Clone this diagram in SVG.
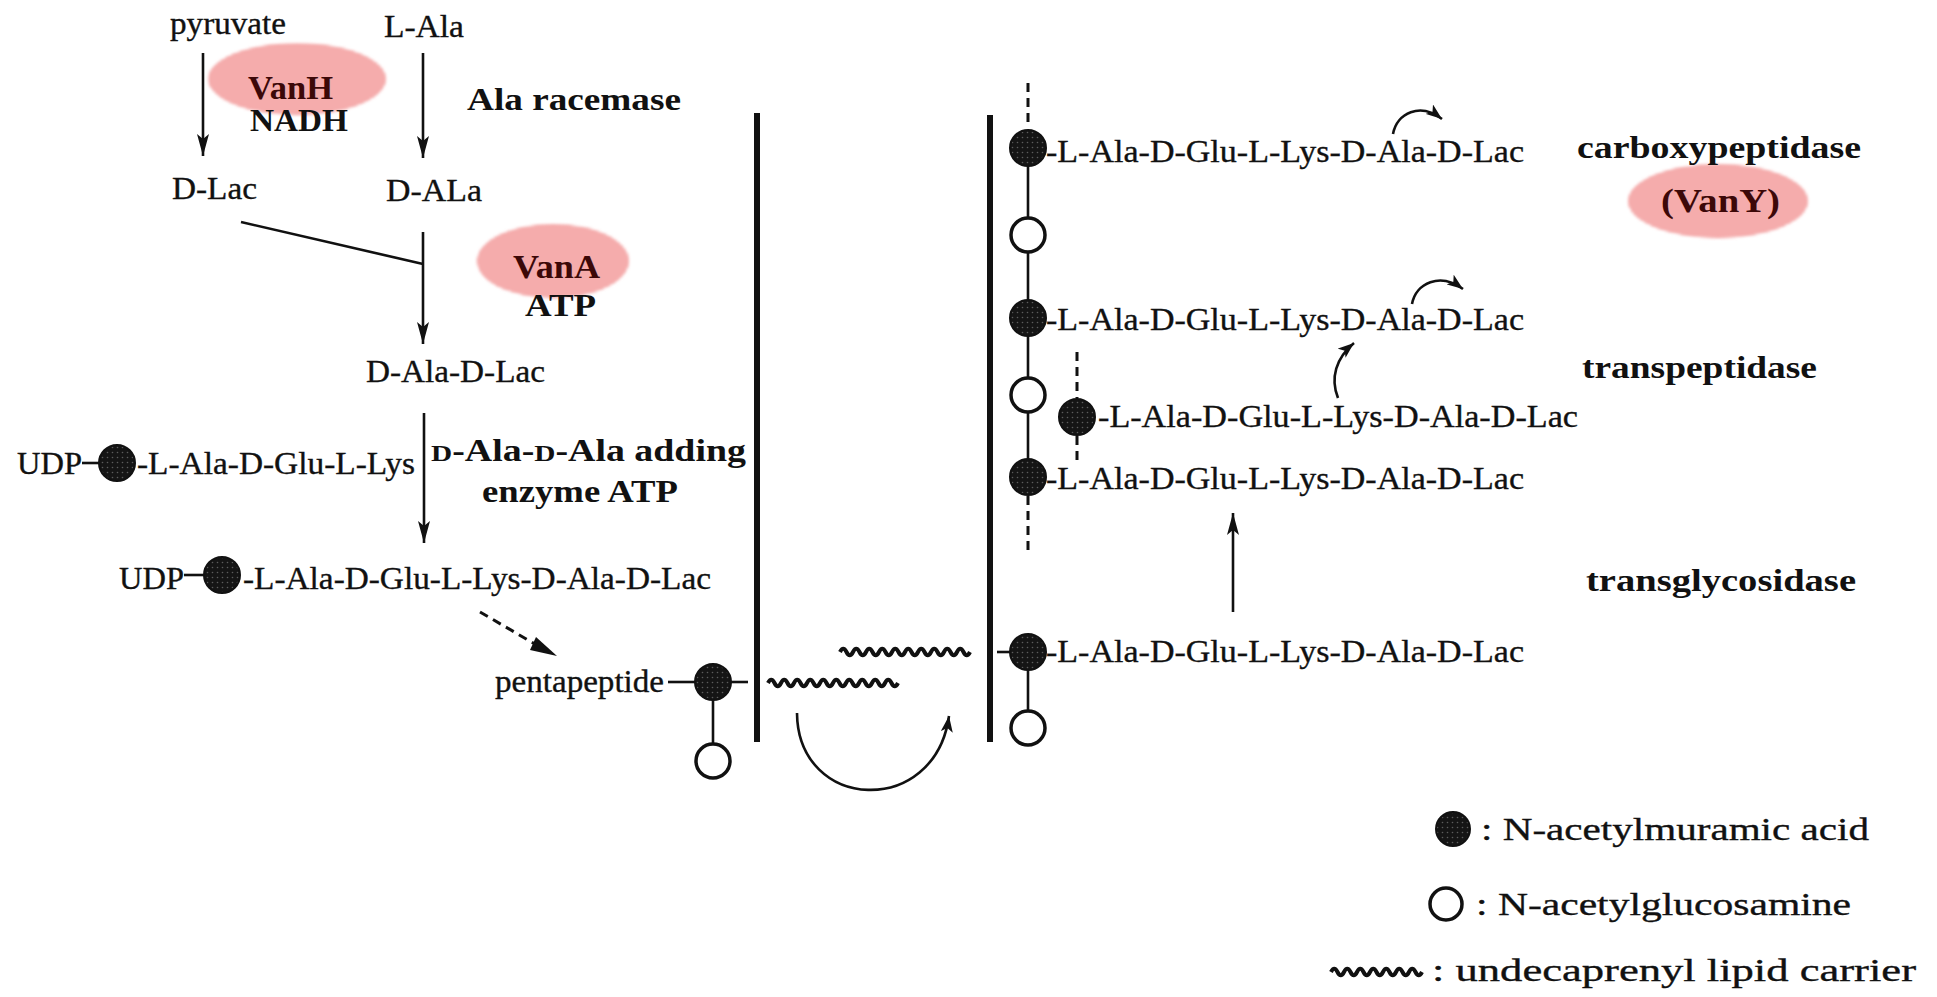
<svg xmlns="http://www.w3.org/2000/svg" width="1937" height="997" viewBox="0 0 1937 997">
  <style>
    .t { font-family: "Liberation Serif", "Times New Roman", serif; font-size: 31px; fill: #111; stroke: #111; stroke-width: 0.35; }
    .b { font-family: "Liberation Serif", "Times New Roman", serif; font-size: 31px; font-weight: bold; fill: #111; }
    .enz { font-family: "Liberation Serif", "Times New Roman", serif; font-size: 34px; font-weight: bold; fill: #3c0808; }
    .ln { stroke: #111; stroke-width: 2.6; fill: none; }
    .arr { stroke: #111; stroke-width: 2.6; fill: none; marker-end: url(#ah); }
    .dash { stroke: #111; stroke-width: 3; fill: none; stroke-dasharray: 9 6; }
    .mem { stroke: #111; stroke-width: 6; fill: none; }
    .mur { fill: url(#dots); stroke: #111; stroke-width: 2; }
    .glc { fill: #fff; stroke: #111; stroke-width: 3.5; }
    .wave { stroke: #111; stroke-width: 4; fill: none; }
    .blob { fill: url(#pink); filter: url(#soft); }
  </style>
  <defs>
    <!-- stippled dark fill for N-acetylmuramic acid -->
    <pattern id="dots" width="5" height="5" patternUnits="userSpaceOnUse">
      <rect width="5" height="5" fill="#151515"/>
      <circle cx="2.5" cy="2.5" r="0.8" fill="#5c5c5c"/>
    </pattern>
    <!-- screened pink highlight behind enzyme names -->
    <pattern id="pink" width="3" height="3" patternUnits="userSpaceOnUse">
      <rect width="3" height="3" fill="#fcdcdc"/>
      <rect width="1" height="3" fill="#ef7272"/>
      <rect width="3" height="1" fill="#ef7272"/>
    </pattern>
    <filter id="soft" x="-20%" y="-20%" width="140%" height="140%">
      <feGaussianBlur stdDeviation="1.4"/>
    </filter>
    <marker id="ah" markerUnits="userSpaceOnUse" markerWidth="24" markerHeight="14" refX="22" refY="7" orient="auto">
      <path d="M0,1 L22,7 L0,13 L5,7 z" fill="#111"/>
    </marker>
    <marker id="ahc" markerUnits="userSpaceOnUse" markerWidth="18" markerHeight="12" refX="16" refY="6" orient="auto">
      <path d="M0,0 L16,6 L0,12 L4,6 z" fill="#111"/>
    </marker>
    <path id="wv" d="M0,0 q3.25,-6.5 6.5,0 t6.5,0 t6.5,0 t6.5,0 t6.5,0 t6.5,0 t6.5,0 t6.5,0 t6.5,0 t6.5,0 t6.5,0 t6.5,0 t6.5,0 t6.5,0 t6.5,0 t6.5,0 t6.5,0 t6.5,0 t6.5,0 t6.5,0"/>
  </defs>

  <!-- enzyme highlights -->
  <g id="enzymes">
    <ellipse class="blob" cx="297" cy="79" rx="89" ry="36"/>
    <ellipse class="blob" cx="553" cy="261" rx="76" ry="37"/>
    <ellipse class="blob" cx="1718" cy="201" rx="90" ry="37"/>
  </g>

  <!-- cytoplasmic precursor synthesis -->
  <g id="node-pyruvate"><text class="t" x="170" y="34" textLength="116" lengthAdjust="spacingAndGlyphs">pyruvate</text></g>
  <g id="node-lala"><text class="t" x="384" y="37" textLength="80" lengthAdjust="spacingAndGlyphs">L-Ala</text></g>
  <g id="node-vanh">
    <text class="enz" x="248" y="99" textLength="85" lengthAdjust="spacingAndGlyphs">VanH</text>
    <text class="b" x="250" y="131" textLength="98" lengthAdjust="spacingAndGlyphs">NADH</text>
  </g>
  <g id="node-racemase"><text class="b" x="467" y="110" textLength="214" lengthAdjust="spacingAndGlyphs">Ala  racemase</text></g>
  <g id="node-dlac"><text class="t" x="172" y="199" textLength="85" lengthAdjust="spacingAndGlyphs">D-Lac</text></g>
  <g id="node-dala"><text class="t" x="386" y="201" textLength="96" lengthAdjust="spacingAndGlyphs">D-ALa</text></g>
  <g id="node-vana">
    <text class="enz" x="513" y="278" textLength="87" lengthAdjust="spacingAndGlyphs">VanA</text>
    <text class="b" x="525" y="316" textLength="71" lengthAdjust="spacingAndGlyphs">ATP</text>
  </g>
  <g id="node-dipeptide"><text class="t" x="366" y="382" textLength="179" lengthAdjust="spacingAndGlyphs">D-Ala-D-Lac</text></g>

  <g id="node-udp-tripeptide">
    <text class="t" x="17" y="474" textLength="65" lengthAdjust="spacingAndGlyphs">UDP</text>
    <line class="ln" x1="82" y1="463" x2="100" y2="463" stroke-width="3.5"/>
    <circle class="mur" cx="117" cy="463" r="18"/>
    <text class="t" x="137" y="474" textLength="278" lengthAdjust="spacingAndGlyphs">-L-Ala-D-Glu-L-Lys</text>
  </g>
  <g id="node-adding-enzyme">
    <text class="b" x="431" y="461" textLength="315" lengthAdjust="spacingAndGlyphs"><tspan font-size="24">D</tspan>-Ala-<tspan font-size="24">D</tspan>-Ala  adding</text>
    <text class="b" x="482" y="502" textLength="196" lengthAdjust="spacingAndGlyphs">enzyme  ATP</text>
  </g>
  <g id="node-udp-pentapeptide">
    <text class="t" x="119" y="589" textLength="65" lengthAdjust="spacingAndGlyphs">UDP</text>
    <line class="ln" x1="184" y1="575" x2="205" y2="575" stroke-width="3.5"/>
    <circle class="mur" cx="222" cy="575" r="18"/>
    <text class="t" x="243" y="589" textLength="468" lengthAdjust="spacingAndGlyphs">-L-Ala-D-Glu-L-Lys-D-Ala-D-Lac</text>
  </g>

  <!-- lipid intermediate at the inner face -->
  <g id="node-lipid-inner">
    <text class="t" x="495" y="692" textLength="169" lengthAdjust="spacingAndGlyphs">pentapeptide</text>
    <line class="ln" x1="668" y1="682" x2="695" y2="682" stroke-width="3"/>
    <circle class="mur" cx="713" cy="682" r="18"/>
    <line class="ln" x1="731" y1="682" x2="748" y2="682" stroke-width="3"/>
    <line class="ln" x1="713" y1="700" x2="713" y2="743"/>
    <circle class="glc" cx="713" cy="761" r="17"/>
    <use href="#wv" x="768" y="683" class="wave"/>
  </g>

  <!-- membrane -->
  <g id="membrane">
    <line class="mem" x1="757" y1="113" x2="757" y2="742"/>
    <line class="mem" x1="990" y1="115" x2="990" y2="742"/>
  </g>

  <!-- lipid intermediate at the outer face -->
  <g id="node-lipid-outer">
    <use href="#wv" x="840" y="652" class="wave"/>
    <line class="ln" x1="997" y1="652" x2="1011" y2="652" stroke-width="3"/>
    <circle class="mur" cx="1028" cy="652" r="18"/>
    <text class="t" x="1046" y="662" textLength="478" lengthAdjust="spacingAndGlyphs">-L-Ala-D-Glu-L-Lys-D-Ala-D-Lac</text>
    <line class="ln" x1="1028" y1="670" x2="1028" y2="711"/>
    <circle class="glc" cx="1028" cy="728" r="17"/>
  </g>

  <!-- growing glycan strand -->
  <g id="node-glycan">
    <line class="dash" x1="1028" y1="83" x2="1028" y2="128"/>
    <line class="ln" x1="1028" y1="148" x2="1028" y2="477"/>
    <line class="dash" x1="1028" y1="496" x2="1028" y2="553"/>
    <circle class="mur" cx="1028" cy="148" r="18"/>
    <circle class="glc" cx="1028" cy="235" r="17"/>
    <circle class="mur" cx="1028" cy="318" r="18"/>
    <circle class="glc" cx="1028" cy="395" r="17"/>
    <circle class="mur" cx="1028" cy="477" r="18"/>
    <text class="t" x="1046" y="162" textLength="478" lengthAdjust="spacingAndGlyphs">-L-Ala-D-Glu-L-Lys-D-Ala-D-Lac</text>
    <text class="t" x="1046" y="330" textLength="478" lengthAdjust="spacingAndGlyphs">-L-Ala-D-Glu-L-Lys-D-Ala-D-Lac</text>
    <text class="t" x="1046" y="489" textLength="478" lengthAdjust="spacingAndGlyphs">-L-Ala-D-Glu-L-Lys-D-Ala-D-Lac</text>
  </g>
  <g id="node-crosslink">
    <line class="dash" x1="1077" y1="352" x2="1077" y2="398"/>
    <circle class="mur" cx="1077" cy="417" r="18"/>
    <line class="dash" x1="1077" y1="436" x2="1077" y2="462"/>
    <text class="t" x="1098" y="427" textLength="480" lengthAdjust="spacingAndGlyphs">-L-Ala-D-Glu-L-Lys-D-Ala-D-Lac</text>
  </g>

  <!-- periplasmic enzymes -->
  <g id="node-carboxypeptidase">
    <text class="b" x="1577" y="158" textLength="284" lengthAdjust="spacingAndGlyphs">carboxypeptidase</text>
    <text class="enz" x="1661" y="212" textLength="119" lengthAdjust="spacingAndGlyphs">(VanY)</text>
  </g>
  <g id="node-transpeptidase"><text class="b" x="1582" y="378" textLength="235" lengthAdjust="spacingAndGlyphs">transpeptidase</text></g>
  <g id="node-transglycosidase"><text class="b" x="1586" y="591" textLength="270" lengthAdjust="spacingAndGlyphs">transglycosidase</text></g>

  <!-- key -->
  <g id="legend">
    <circle class="mur" cx="1453" cy="829" r="17"/>
    <text class="t" x="1481" y="840" textLength="388" lengthAdjust="spacingAndGlyphs">: N-acetylmuramic acid</text>
    <circle class="glc" cx="1446" cy="904" r="16"/>
    <text class="t" x="1476" y="915" textLength="375" lengthAdjust="spacingAndGlyphs">: N-acetylglucosamine</text>
    <path class="wave" d="M1331,972 q3.25,-6.5 6.5,0 t6.5,0 t6.5,0 t6.5,0 t6.5,0 t6.5,0 t6.5,0 t6.5,0 t6.5,0 t6.5,0 t6.5,0 t6.5,0 t6.5,0 t6.5,0"/>
    <text class="t" x="1432" y="981" textLength="484" lengthAdjust="spacingAndGlyphs">: undecaprenyl lipid carrier</text>
  </g>

  <!-- reaction arrows -->
  <g id="connectors">
    <line class="arr" x1="203" y1="53" x2="203" y2="156"/>
    <line class="arr" x1="423" y1="53" x2="423" y2="158"/>
    <line class="ln" x1="241" y1="222" x2="423" y2="264" stroke-width="3"/>
    <line class="arr" x1="423" y1="232" x2="423" y2="344"/>
    <line class="arr" x1="424" y1="413" x2="424" y2="543"/>
    <line class="dash" x1="480" y1="612" x2="540" y2="647" stroke-dasharray="8 6"/>
    <path d="M536,637 L557,656 L530,650 z" fill="#111"/>
    <path class="ln" d="M797,713 C798,812 935,818 949,716" marker-end="url(#ahc)"/>
    <line class="arr" x1="1233" y1="612" x2="1233" y2="513"/>
    <path class="ln" d="M1393,134 C1397,113 1420,102 1442,119" stroke-width="3" marker-end="url(#ahc)"/>
    <path class="ln" d="M1412,304 C1416,283 1440,272 1463,289" stroke-width="3" marker-end="url(#ahc)"/>
    <path class="ln" d="M1338,398 C1330,378 1336,358 1354,343" stroke-width="2.4" marker-end="url(#ahc)"/>
  </g>
</svg>
